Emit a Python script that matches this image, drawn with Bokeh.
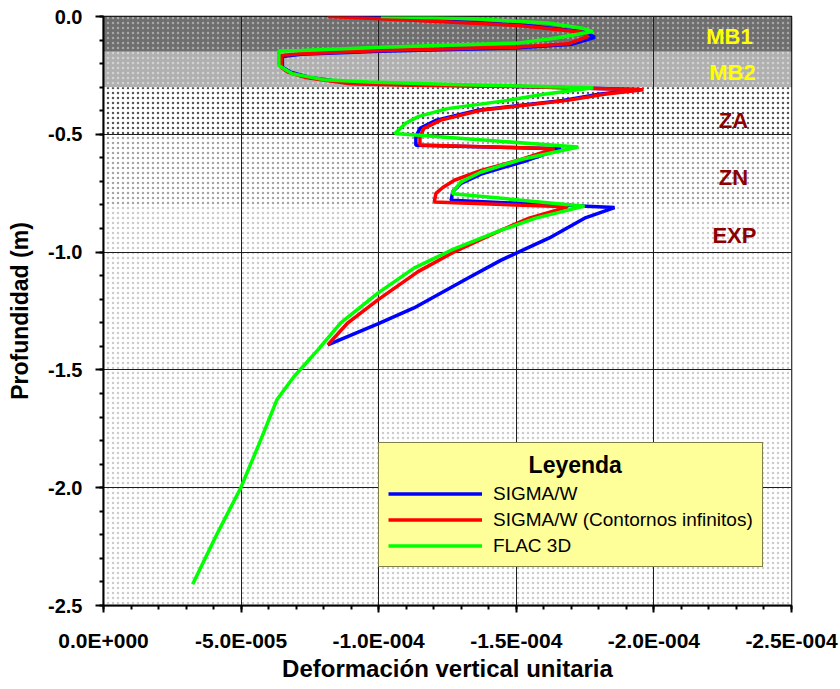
import numpy as np
from bokeh.plotting import figure
from bokeh.models import (Range1d, FixedTicker, Legend, LegendItem, Label)
from bokeh.embed import file_html
from bokeh.resources import INLINE

# ---------------- data ----------------
layer_names = ["MB1", "MB2", "ZA", "ZN", "EXP"]
layer_top = [0.0, -0.15, -0.30, -0.50, -0.80]
layer_bottom = [-0.15, -0.30, -0.50, -0.80, -2.50]

sigma_depth = [0.0, -0.008, -0.036, -0.066, -0.088, -0.118, -0.133, -0.147, -0.16, -0.17,
               -0.216, -0.236, -0.259, -0.283, -0.29, -0.297, -0.31, -0.33, -0.356, -0.398,
               -0.44, -0.475, -0.51, -0.547, -0.561, -0.61, -0.669, -0.709, -0.744, -0.78,
               -0.811, -0.856, -0.94, -1.034, -1.11, -1.237, -1.305, -1.394]
sigma_strain = [-8.87e-5, -10.5e-5, -15.2e-5, -17.5e-5, -17.85e-5, -17.0e-5, -15.06e-5, -10.08e-5, -7.17e-5, -6.5e-5,
                -6.5e-5, -6.8e-5, -7.5e-5, -9.0e-5, -11.3e-5, -15.0e-5, -19.5e-5, -18.0e-5, -16.7e-5, -13.6e-5,
                -12.1e-5, -11.5e-5, -11.35e-5, -11.35e-5, -16.63e-5, -15.42e-5, -13.72e-5, -12.99e-5, -12.69e-5, -12.63e-5,
                -18.57e-5, -17.48e-5, -16.2e-5, -14.45e-5, -13.25e-5, -11.28e-5, -9.97e-5, -8.15e-5]

inf_depth = [0.0, -0.01, -0.038, -0.066, -0.085, -0.116, -0.13, -0.144, -0.158, -0.165,
             -0.216, -0.236, -0.259, -0.285, -0.292, -0.297, -0.311, -0.33, -0.356, -0.398,
             -0.44, -0.475, -0.51, -0.545, -0.561, -0.607, -0.653, -0.695, -0.726, -0.751,
             -0.787, -0.808, -0.856, -0.907, -0.999, -1.083, -1.203, -1.30, -1.394]
inf_strain = [-8.15e-5, -10.08e-5, -15.06e-5, -17.36e-5, -17.6e-5, -16.87e-5, -15.05e-5, -10.08e-5, -7.17e-5, -6.46e-5,
              -6.46e-5, -6.7e-5, -7.35e-5, -8.97e-5, -11.24e-5, -15.06e-5, -19.62e-5, -18.2e-5, -16.87e-5, -13.72e-5,
              -12.26e-5, -11.64e-5, -11.5e-5, -11.5e-5, -16.39e-5, -15.17e-5, -13.72e-5, -12.75e-5, -12.33e-5, -12.08e-5,
              -12.02e-5, -16.87e-5, -15.47e-5, -14.45e-5, -12.74e-5, -11.43e-5, -9.97e-5, -8.88e-5, -8.15e-5]

flac_depth = [0.0, -0.01, -0.028, -0.05, -0.064, -0.09, -0.113, -0.13, -0.144, -0.146,
              -0.208, -0.243, -0.268, -0.278, -0.29, -0.302, -0.33, -0.356, -0.391, -0.424,
              -0.452, -0.497, -0.554, -0.607, -0.66, -0.702, -0.744, -0.752, -0.805, -0.856,
              -0.907, -0.992, -1.068, -1.174, -1.30, -1.415, -1.53, -1.627, -1.818, -2.0,
              -2.2, -2.41]
flac_strain = [-10.08e-5, -13.5e-5, -16.15e-5, -17.4e-5, -17.78e-5, -16.5e-5, -15.05e-5, -10.08e-5, -7.17e-5, -6.37e-5,
               -6.37e-5, -6.86e-5, -8.0e-5, -9.62e-5, -13.0e-5, -17.8e-5, -16.0e-5, -14.69e-5, -12.5e-5, -11.46e-5,
               -10.99e-5, -10.59e-5, -17.25e-5, -15.17e-5, -13.72e-5, -12.99e-5, -12.69e-5, -12.69e-5, -17.48e-5, -15.7e-5,
               -14.45e-5, -12.63e-5, -11.28e-5, -9.97e-5, -8.62e-5, -7.79e-5, -6.91e-5, -6.30e-5, -5.64e-5, -4.99e-5,
               -4.11e-5, -3.24e-5]

series_names = ["SIGMA/W", "SIGMA/W (Contornos infinitos)", "FLAC 3D"]
legend_title = "Leyenda"

x_ticks = [0.0, -5e-5, -1e-4, -1.5e-4, -2e-4, -2.5e-4]
x_tick_labels = ["0.0E+000", "-5.0E-005", "-1.0E-004", "-1.5E-004", "-2.0E-004", "-2.5E-004"]
y_ticks = [0.0, -0.5, -1.0, -1.5, -2.0, -2.5]
y_tick_labels = ["0.0", "-0.5", "-1.0", "-1.5", "-2.0", "-2.5"]

# ---------------- styles ----------------
FONT = "Liberation Sans"
series_colors = ["#0000ff", "#ff0000", "#00ff00"]
layer_fill = ["#6e6e6e", "#b0b0b0", "#ffffff", "#ffffff", "#ffffff"]
layer_hatch_color = ["#a8a8a8", "#d2d2d2", "#575757", "#a5a5a5", "#cccccc"]
layer_hatch_scale = [5, 5, 5, 5, 5]
layer_hatch_weight = [1.5, 1.5, 4.0, 4.0, 1.0]
layer_label_color = ["#ffff00", "#ffff00", "#8b0000", "#8b0000", "#8b0000"]

x_start, x_end = 0.0, -2.5e-4
y_start, y_end = -2.5, 0.0

p = figure(width=840, height=689, output_backend="svg", toolbar_location=None,
           x_range=Range1d(x_start, x_end), y_range=Range1d(y_start, y_end),
           min_border_left=103, min_border_right=49, min_border_top=16, min_border_bottom=84)
p.background_fill_color = "white"
p.border_fill_color = "white"
p.outline_line_color = "black"
p.outline_line_width = 1.5

# soil layers
for i in range(len(layer_names)):
    p.quad(left=[x_start], right=[x_end], top=[layer_top[i]], bottom=[layer_bottom[i]],
           fill_color=layer_fill[i], line_color=None,
           hatch_pattern="dot", hatch_color=layer_hatch_color[i],
           hatch_scale=layer_hatch_scale[i], hatch_weight=layer_hatch_weight[i],
           level="image")

# curves
r1 = p.line(sigma_strain, sigma_depth, line_color=series_colors[0], line_width=3.5)
r2 = p.line(inf_strain, inf_depth, line_color=series_colors[1], line_width=3.5)
r3 = p.line(flac_strain, flac_depth, line_color=series_colors[2], line_width=3.5)

# axes
x_minor = list(np.linspace(x_start, x_end, 26))
y_minor = list(np.linspace(y_end, y_start, 26))
xt = FixedTicker(ticks=x_ticks, minor_ticks=x_minor)
yt = FixedTicker(ticks=y_ticks, minor_ticks=y_minor)
p.xaxis.ticker = xt
p.yaxis.ticker = yt
p.xgrid.ticker = xt
p.ygrid.ticker = yt
p.xaxis.major_label_overrides = dict(zip(x_ticks, x_tick_labels))
p.yaxis.major_label_overrides = dict(zip(y_ticks, y_tick_labels))

for g in (p.xgrid, p.ygrid):
    g.grid_line_color = "#1e1e1e"
    g.grid_line_width = 1

for ax in (p.xaxis, p.yaxis):
    ax.axis_line_width = 2
    ax.axis_line_color = "black"
    ax.major_tick_line_width = 2
    ax.minor_tick_line_width = 2
    ax.major_tick_line_color = "black"
    ax.minor_tick_line_color = "black"
    ax.major_tick_in = 0
    ax.minor_tick_in = 0
    ax.minor_tick_out = 4
    ax.major_label_text_font = FONT
    ax.major_label_text_font_style = "bold"
    ax.major_label_text_color = "black"
    ax.axis_label_text_font = FONT
    ax.axis_label_text_font_style = "bold"
    ax.axis_label_text_color = "black"

p.xaxis.major_tick_out = 7
p.xaxis.major_label_text_font_size = "21px"
p.xaxis.major_label_standoff = 16
p.xaxis.axis_label = "Deformación vertical unitaria"
p.xaxis.axis_label_text_font_size = "24px"
p.xaxis.axis_label_standoff = 0

p.yaxis.major_tick_out = 8
p.yaxis.major_label_text_font_size = "20px"
p.yaxis.major_label_standoff = 13
p.yaxis.axis_label = "Profundidad (m)"
p.yaxis.axis_label_text_font_size = "23px"
p.yaxis.axis_label_standoff = 12

# layer labels
label_x = [-2.2744e-4, -2.2853e-4, -2.289e-4, -2.289e-4, -2.2926e-4]
label_y = [-0.0847, -0.237, -0.441, -0.682, -0.928]
for i, name in enumerate(layer_names):
    p.add_layout(Label(x=label_x[i], y=label_y[i], text=name, text_align="center",
                       text_baseline="middle", text_font=FONT, text_font_style="bold",
                       text_font_size="22px", text_color=layer_label_color[i]))

# legend; the title is shifted to the centre of the box with no-break spaces
title_pad = "\u00a0" * 22
legend = Legend(items=[LegendItem(label=series_names[0], renderers=[r1]),
                       LegendItem(label=series_names[1], renderers=[r2]),
                       LegendItem(label=series_names[2], renderers=[r3])],
                location=(275, 38), title=title_pad + legend_title,
                title_text_font=FONT, title_text_font_style="bold",
                title_text_font_size="23px", title_text_color="black", title_standoff=3,
                label_text_font=FONT, label_text_font_size="19px", label_text_color="black",
                background_fill_color="#ffff99", background_fill_alpha=1.0,
                border_line_color="black", border_line_width=1.5,
                padding=9, spacing=3, label_height=23, glyph_height=23,
                glyph_width=94, label_standoff=11, margin=0)
p.add_layout(legend)

open("out.html", "w").write(file_html(p, INLINE))
